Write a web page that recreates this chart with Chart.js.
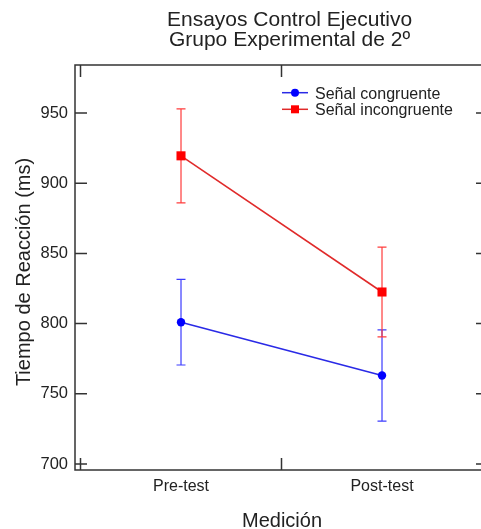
<!DOCTYPE html>
<html><head><meta charset="utf-8">
<script src="https://cdn.jsdelivr.net/npm/chart.js@4"></script>
<style>html,body{margin:0;padding:0;background:#fff;overflow:hidden;} canvas{display:block;}</style>
</head><body>
<canvas id="c" width="481" height="529"></canvas>
<script>
const categories = ['Pre-test', 'Post-test'];
const congruente = [801, 763];
const congruenteErr = [30.5, 32.5];
const incongruente = [919.5, 822.5];
const incongruenteErr = [33.5, 32];
const yTicks = [700, 750, 800, 850, 900, 950];
const titleLines = ['Ensayos Control Ejecutivo', 'Grupo Experimental de 2º'];
const seriesNames = ['Señal congruente', 'Señal incongruente'];
const xTitle = 'Medición';
const yTitle = 'Tiempo de Reacción (ms)';

const FONT = "'Liberation Sans', Arial, Helvetica, sans-serif";
const TEXT = '#222';
const AXIS = '#333';
const BLUE_LINE = '#2a2ae6', BLUE_ERR = '#3c3cff', BLUE_PT = '#0000ff';
const RED_LINE = '#e02a2a', RED_ERR = '#ff3c3c', RED_PT = '#ff0000';

const errs = [congruenteErr, incongruenteErr];
const errColors = [BLUE_ERR, RED_ERR];

const decorPlugin = {
  id: 'decor',
  beforeDatasetsDraw(chart) {
    const ctx = chart.ctx, xs = chart.scales.x, ys = chart.scales.y;
    ctx.save();
    chart.data.datasets.forEach((ds, di) => {
      ctx.strokeStyle = errColors[di];
      ctx.lineWidth = 1.2;
      ds.data.forEach((p, i) => {
        const x = xs.getPixelForValue(p.x);
        const yt = ys.getPixelForValue(p.y + errs[di][i]);
        const yb = ys.getPixelForValue(p.y - errs[di][i]);
        ctx.beginPath();
        ctx.moveTo(x, yt); ctx.lineTo(x, yb);
        ctx.moveTo(x - 4.5, yt); ctx.lineTo(x + 4.5, yt);
        ctx.moveTo(x - 4.5, yb); ctx.lineTo(x + 4.5, yb);
        ctx.stroke();
      });
    });
    ctx.restore();
  },
  afterDraw(chart) {
    const ctx = chart.ctx, xs = chart.scales.x, ys = chart.scales.y;
    const a = chart.chartArea;
    const L = 75, T = a.top, B = a.bottom, R = 488;
    ctx.save();
    ctx.strokeStyle = AXIS;
    ctx.lineWidth = 1.5;
    ctx.strokeRect(L, T, R - L, B - T);
    ctx.beginPath();
    yTicks.forEach(v => {
      const y = ys.getPixelForValue(v);
      ctx.moveTo(L, y); ctx.lineTo(L + 12, y);
      ctx.moveTo(R, y); ctx.lineTo(R - 12, y);
    });
    [-0.5, 0.5, 1.5].forEach(v => {
      const x = xs.getPixelForValue(v);
      ctx.moveTo(x, B); ctx.lineTo(x, B - 12);
      ctx.moveTo(x, T); ctx.lineTo(x, T + 12);
    });
    ctx.stroke();

    // Title
    ctx.fillStyle = TEXT;
    ctx.textAlign = 'center';
    ctx.textBaseline = 'alphabetic';
    ctx.font = '21px ' + FONT;
    ctx.fillText(titleLines[0], 289.5, 26);
    ctx.fillText(titleLines[1], 289.5, 46);

    // Axis titles
    ctx.font = '20px ' + FONT;
    ctx.fillText(xTitle, 282, 527);
    ctx.save();
    ctx.translate(29.5, 272);
    ctx.rotate(-Math.PI / 2);
    ctx.fillText(yTitle, 0, 0);
    ctx.restore();

    // Legend
    const rows = [
      {y: 92.7, base: 98.5, line: BLUE_LINE, pt: BLUE_PT, shape: 'circle'},
      {y: 109.3, base: 115, line: RED_LINE, pt: RED_PT, shape: 'rect'}
    ];
    rows.forEach((r, i) => {
      ctx.strokeStyle = r.line;
      ctx.lineWidth = 1.5;
      ctx.beginPath();
      ctx.moveTo(282, r.y); ctx.lineTo(308, r.y);
      ctx.stroke();
      ctx.fillStyle = r.pt;
      if (r.shape === 'circle') {
        ctx.beginPath(); ctx.arc(295, r.y, 4, 0, Math.PI * 2); ctx.fill();
      } else {
        ctx.fillRect(291, r.y - 4, 8, 8);
      }
      ctx.fillStyle = TEXT;
      ctx.textAlign = 'left';
      ctx.font = '16px ' + FONT;
      ctx.fillText(seriesNames[i], 315, r.base);
    });
    ctx.restore();
  }
};

const toPoints = arr => categories.map((c, i) => ({x: i, y: arr[i]}));

new Chart(document.getElementById('c'), {
  type: 'line',
  data: {
    datasets: [
      {
        label: seriesNames[0], data: toPoints(congruente),
        borderColor: BLUE_LINE, borderWidth: 1.6,
        pointStyle: 'circle', pointRadius: 4.2, pointBackgroundColor: BLUE_PT,
        pointBorderWidth: 0, pointHoverRadius: 4.2
      },
      {
        label: seriesNames[1], data: toPoints(incongruente),
        borderColor: RED_LINE, borderWidth: 1.6,
        pointStyle: 'rect', pointRadius: 6.4, pointBackgroundColor: RED_PT,
        pointBorderWidth: 0, pointHoverRadius: 6.4
      }
    ]
  },
  options: {
    responsive: false,
    animation: false,
    devicePixelRatio: 1,
    layout: {autoPadding: false, padding: {top: 65, left: 0, right: 0, bottom: 0}},
    plugins: {legend: {display: false}, title: {display: false}, tooltip: {enabled: false}},
    elements: {line: {tension: 0}},
    scales: {
      x: {
        type: 'linear',
        min: -0.5274, max: 1.4925,
        afterFit: s => { s.height = 59; s.paddingLeft = 0; s.paddingRight = 0; },
        afterBuildTicks: s => { s.ticks = categories.map((c, i) => ({value: i})); },
        grid: {display: false, drawTicks: false},
        border: {display: false},
        ticks: {
          callback: v => categories[v],
          font: {family: FONT, size: 16},
          color: TEXT, padding: 7, autoSkip: false, maxRotation: 0
        }
      },
      y: {
        type: 'linear',
        min: 695.7, max: 984.2,
        afterFit: s => { s.width = 75; s.paddingTop = 0; s.paddingBottom = 0; },
        afterBuildTicks: s => { s.ticks = yTicks.map(v => ({value: v})); },
        grid: {display: false, drawTicks: false},
        border: {display: false},
        ticks: {
          font: {family: FONT, size: 16.5},
          color: TEXT, padding: 7
        }
      }
    }
  },
  plugins: [decorPlugin]
});
</script>
</body></html>
